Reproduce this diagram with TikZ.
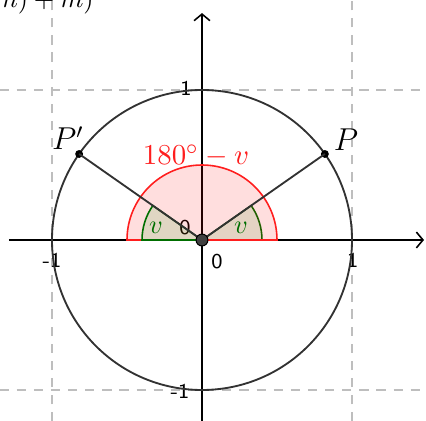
\documentclass[tikz,border=0pt]{standalone}
\usepackage{amsmath, amssymb}
\usetikzlibrary{positioning,calc,arrows.meta}

\definecolor{gridgray}{RGB}{190,190,190}
\definecolor{angred}{RGB}{255,30,30}
\definecolor{anggreen}{RGB}{0,110,0}
\definecolor{linegray}{RGB}{50,50,50}

\begin{document}
\begin{tikzpicture}[
  x=2cm, y=2cm,
  >={Straight Barb[length=2.5pt,width=6pt]},
  gridline/.style={gridgray, dash pattern=on 3.5pt off 3pt, line width=0.5pt},
  axis/.style={->, line width=0.6pt},
  seg/.style={linegray, line width=0.7pt},
  pt/.style={circle, fill=black, inner sep=0pt, minimum size=3pt},
  ticklab/.style={font=\sffamily\footnotesize, inner sep=0pt},
  redsec/.style={draw=angred, fill=red, fill opacity=0.13, line width=0.6pt},
  greensec/.style={draw=anggreen, fill=green!60!black, fill opacity=0.12, line width=0.6pt}
]
\useasboundingbox (-1.3467,-1.2067) rectangle (1.4933,1.6);

% cut-off text at the top
\node[anchor=base east] (cut) at (-0.66,1.553) {$n) + m)$};

% dashed grid
\foreach \k in {-1,1} {
  \draw[gridline] (\k,-1.21) -- (\k,1.6);
  \draw[gridline] (-1.35,\k) -- (1.5,\k);
}

% axes
\coordinate (O) at (0,0);
\coordinate (xl) at (-1.287,0);
\coordinate (xr) at (1.48,0);
\coordinate (yb) at (0,-1.21);
\coordinate (yt) at (0,1.513);
\draw[axis] (xl) -- (xr);
\draw[axis] (yb) -- (yt);
\foreach \k in {-1,1} {
  \draw[line width=0.5pt] (\k,-0.03) -- (\k,0.03);
  \draw[line width=0.5pt] (-0.03,\k) -- (0.03,\k);
}

% axis labels
\node[ticklab] (lxm) at (-1,-0.133) {-1};
\node[ticklab] (lxp) at (1.005,-0.133) {1};
\node[ticklab] (lyp) at (-0.107,1.013) {1};
\node[ticklab] (lym) at (-0.147,-1.007) {-1};
\node[ticklab] (lo) at (0.1,-0.147) {0};
\node[ticklab] (lo2) at (-0.113,0.08) {0};

% angle sectors
\draw[greensec] (O) -- (0.4,0) arc[start angle=0, end angle=35, radius=0.4] -- cycle;
\draw[redsec] (O) -- (0.5,0) arc[start angle=0, end angle=180, radius=0.5] -- cycle;
\draw[greensec] (O) -- (145:0.4) arc[start angle=145, end angle=180, radius=0.4] -- cycle;

% unit circle
\draw[seg] (O) circle (1);

% points and radii
\node[pt] (P) at (35:1) {};
\node[pt] (Pp) at (145:1) {};
\draw[seg] (O) -- (P.center);
\draw[seg] (O) -- (Pp.center);
\node[circle, draw=black, fill=black!75, inner sep=0pt, minimum size=4.5pt] (Odot) at (O) {};

% labels
\node (lP) at (0.96,0.667) {\large $P$};
\node (lPp) at (-0.893,0.68) {\large $P'$};
\node[text=angred, font=\fontsize{11}{13}\selectfont] (lang) at (-0.04,0.56) {$180^\circ - v$};
\node[text=anggreen] (lv1) at (0.26,0.08) {$v$};
\node[text=anggreen] (lv2) at (-0.307,0.08) {$v$};

\end{tikzpicture}
\end{document}
